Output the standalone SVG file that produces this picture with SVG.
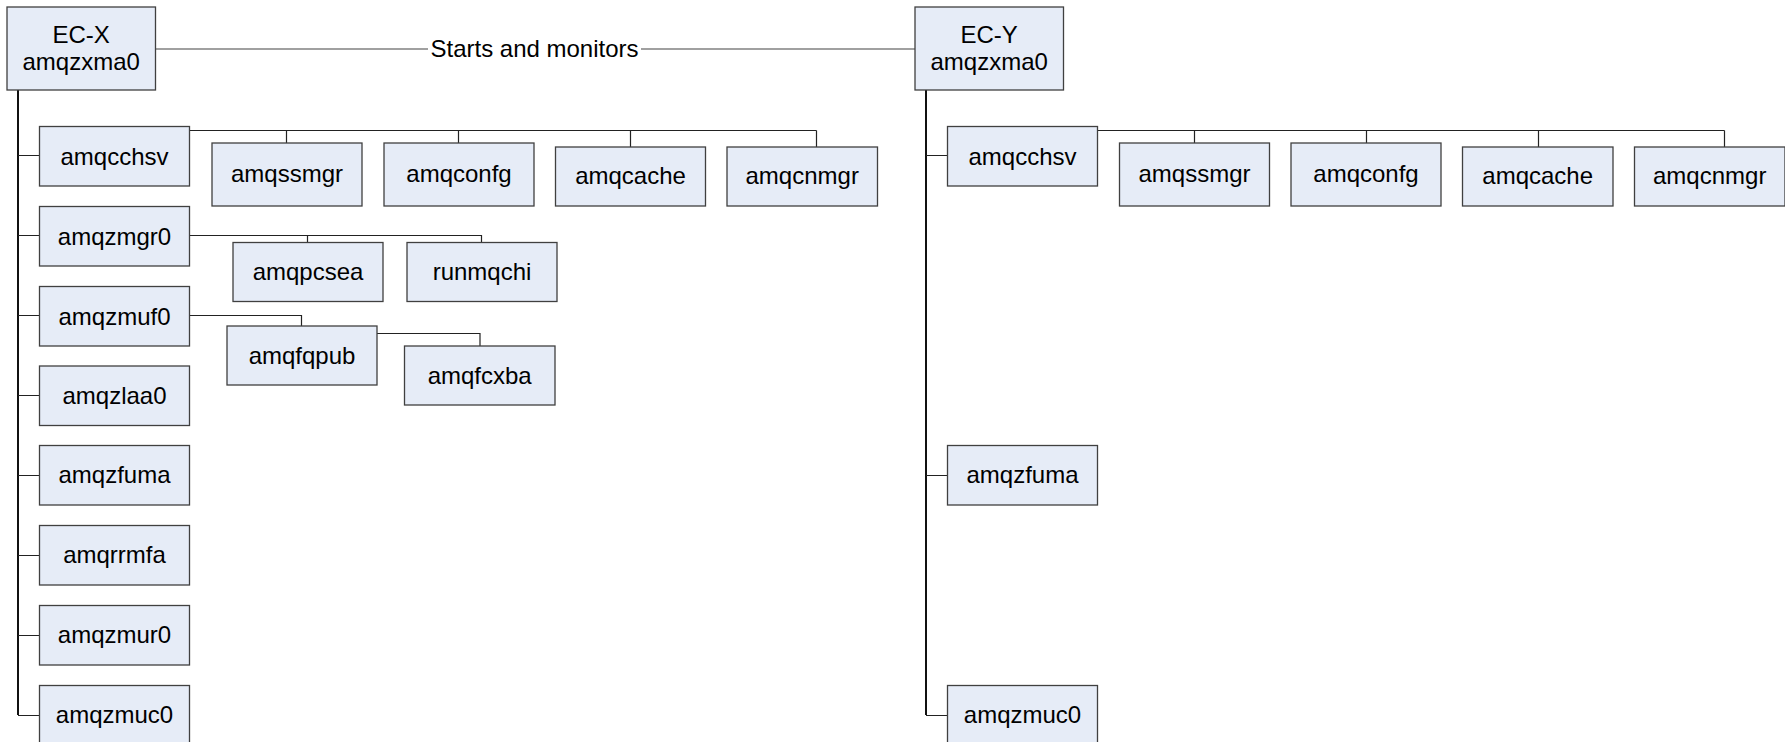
<svg xmlns="http://www.w3.org/2000/svg" width="1785" height="742" viewBox="0 0 1785 742">
<style>
.box{fill:#E6ECF7;stroke:#404040;stroke-width:1.3}
.t{font-family:"Liberation Sans",Arial,sans-serif;font-size:24px;fill:#000;text-anchor:middle}
.ln{fill:none;stroke:#222;stroke-width:1.2}
.trunk{fill:none;stroke:#111;stroke-width:2}
.gl{fill:none;stroke:#808080;stroke-width:1.5}
</style>
<rect width="1785" height="742" fill="#fff"/>
<g id="connectors">
  <line class="gl" x1="156" y1="49" x2="428" y2="49"/>
  <line class="gl" x1="641" y1="49" x2="915" y2="49"/>
  <!-- left tree -->
  <line class="trunk" x1="18" y1="90" x2="18" y2="715"/>
  <path class="ln" d="M18 155.5H40 M18 235.5H40 M18 315.5H40 M18 395.5H40 M18 475.5H40 M18 555.5H40 M18 635.5H40 M18 715.5H40"/>
  <path class="ln" d="M190 130.5H816.5 M286.5 130.5V143 M458.5 130.5V143 M630.5 130.5V147 M816.5 130.5V147"/>
  <path class="ln" d="M190 235.5H481.5V242 M307.5 235.5V242"/>
  <path class="ln" d="M190 315.5H301.5V326"/>
  <path class="ln" d="M377 333.5H480V346"/>
  <!-- right tree -->
  <line class="trunk" x1="926" y1="90" x2="926" y2="715"/>
  <path class="ln" d="M926 155.5H948 M926 475.5H948 M926 715.5H948"/>
  <path class="ln" d="M1098 130.5H1724.5 M1194.5 130.5V143 M1366.5 130.5V143 M1538.5 130.5V147 M1724.5 130.5V147"/>
  <text class="t" x="534.5" y="56.5">Starts and monitors</text>
</g>
<g id="ecx"><rect class="box" x="7" y="7" width="148.5" height="83"/><text class="t" x="81.2" y="42.5">EC-X</text><text class="t" x="81.2" y="69.5">amqzxma0</text></g>
<g id="l-amqcchsv"><rect class="box" x="39.5" y="126.5" width="150" height="59.5"/><text class="t" x="114.5" y="164.5">amqcchsv</text></g>
<g id="l-amqzmgr0"><rect class="box" x="39.5" y="206.5" width="150" height="59.5"/><text class="t" x="114.5" y="244.5">amqzmgr0</text></g>
<g id="l-amqzmuf0"><rect class="box" x="39.5" y="286.5" width="150" height="59.5"/><text class="t" x="114.5" y="324.5">amqzmuf0</text></g>
<g id="l-amqzlaa0"><rect class="box" x="39.5" y="366" width="150" height="59.5"/><text class="t" x="114.5" y="404">amqzlaa0</text></g>
<g id="l-amqzfuma"><rect class="box" x="39.5" y="445.5" width="150" height="59.5"/><text class="t" x="114.5" y="483">amqzfuma</text></g>
<g id="l-amqrrmfa"><rect class="box" x="39.5" y="525.5" width="150" height="59.5"/><text class="t" x="114.5" y="563">amqrrmfa</text></g>
<g id="l-amqzmur0"><rect class="box" x="39.5" y="605.5" width="150" height="59.5"/><text class="t" x="114.5" y="643">amqzmur0</text></g>
<g id="l-amqzmuc0"><rect class="box" x="39.5" y="685.5" width="150" height="59.5"/><text class="t" x="114.5" y="723">amqzmuc0</text></g>
<g id="l-amqssmgr"><rect class="box" x="212" y="143" width="150" height="63"/><text class="t" x="287" y="182">amqssmgr</text></g>
<g id="l-amqconfg"><rect class="box" x="384" y="143" width="150" height="63"/><text class="t" x="459" y="182">amqconfg</text></g>
<g id="l-amqcache"><rect class="box" x="555.5" y="147" width="150" height="59"/><text class="t" x="630.5" y="183.5">amqcache</text></g>
<g id="l-amqcnmgr"><rect class="box" x="727" y="147" width="150.5" height="59"/><text class="t" x="802.2" y="183.5">amqcnmgr</text></g>
<g id="l-amqpcsea"><rect class="box" x="233" y="242.5" width="150" height="59"/><text class="t" x="308" y="280">amqpcsea</text></g>
<g id="l-runmqchi"><rect class="box" x="407" y="242.5" width="150" height="59"/><text class="t" x="482" y="280">runmqchi</text></g>
<g id="l-amqfqpub"><rect class="box" x="227" y="326" width="150" height="59"/><text class="t" x="302" y="363.5">amqfqpub</text></g>
<g id="l-amqfcxba"><rect class="box" x="404.5" y="346" width="150.5" height="59"/><text class="t" x="479.7" y="383.5">amqfcxba</text></g>
<g id="ecy"><rect class="box" x="915" y="7" width="148.5" height="83"/><text class="t" x="989.2" y="42.5">EC-Y</text><text class="t" x="989.2" y="69.5">amqzxma0</text></g>
<g id="r-amqcchsv"><rect class="box" x="947.5" y="126.5" width="150" height="59.5"/><text class="t" x="1022.5" y="164.5">amqcchsv</text></g>
<g id="r-amqzfuma"><rect class="box" x="947.5" y="445.5" width="150" height="59.5"/><text class="t" x="1022.5" y="483">amqzfuma</text></g>
<g id="r-amqzmuc0"><rect class="box" x="947.5" y="685.5" width="150" height="59.5"/><text class="t" x="1022.5" y="723">amqzmuc0</text></g>
<g id="r-amqssmgr"><rect class="box" x="1119.5" y="143" width="150" height="63"/><text class="t" x="1194.5" y="182">amqssmgr</text></g>
<g id="r-amqconfg"><rect class="box" x="1291" y="143" width="150" height="63"/><text class="t" x="1366" y="182">amqconfg</text></g>
<g id="r-amqcache"><rect class="box" x="1462.5" y="147" width="150.5" height="59"/><text class="t" x="1537.7" y="183.5">amqcache</text></g>
<g id="r-amqcnmgr"><rect class="box" x="1634.5" y="147" width="150.5" height="59"/><text class="t" x="1709.7" y="183.5">amqcnmgr</text></g>
</svg>
